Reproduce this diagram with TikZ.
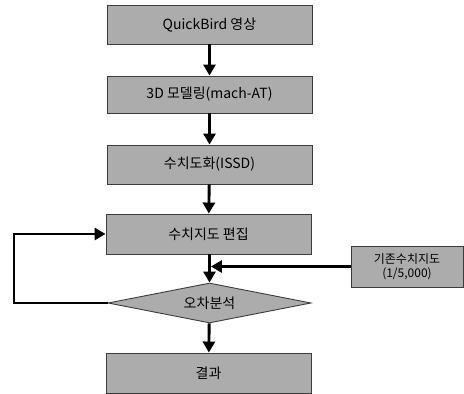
\documentclass[tikz,border=0pt]{standalone}
\usepackage{fontspec}
\setmainfont{Noto Sans CJK KR}
\usetikzlibrary{shapes.geometric,arrows.meta}
\definecolor{boxgray}{RGB}{172,172,172}
\definecolor{edgegray}{RGB}{60,60,60}
\tikzset{
  procbox/.style={draw=edgegray,line width=0.9pt,fill=boxgray,minimum width=#1,inner sep=0pt,font=\fontsize{14}{16}\selectfont},
  procbox/.default=205pt,
  decbox/.style={draw=edgegray,line width=0.9pt,fill=boxgray,shape=diamond,aspect=5,inner sep=0pt,minimum width=203pt,minimum height=40pt,font=\fontsize{14}{16}\selectfont},
  flow/.style={line width=2.9pt,-{Triangle[length=11pt,width=12pt]}},
  plain/.style={line width=2.9pt}
}
\begin{document}
\begin{tikzpicture}[x=1pt,y=-1pt]
\useasboundingbox (0,0) rectangle (464,394);
\node[procbox,minimum height=39pt] (b1) at (209.5,24.5) {QuickBird 영상};
\node[procbox,minimum height=37pt] (b2) at (209.5,94.5) {3D 모델링(mach-AT)};
\node[procbox,minimum height=39pt] (b3) at (209.5,164.5) {수치도화(ISSD)};
\node[procbox,minimum height=40pt] (b4) at (208.5,234) {수치지도 편집};
\node[decbox] (d1) at (209.5,303) {오차분석};
\node[procbox,minimum height=40pt] (b5) at (208.5,373) {결과};
\node[procbox=112pt,minimum height=41pt,align=center,font=\fontsize{12}{13.5}\selectfont] (side) at (407,266.5) {기존수치지도\\(1/5,000)};
\coordinate (loopL) at (14,303);
\coordinate (loopT) at (14,234);
\draw[flow] (b1) -- (b2);
\draw[flow] (b2) -- (b3);
\draw[flow] (b3) -- (b4);
\draw[flow] (b4.south -| d1.north) -- (d1.north);
\draw[flow] (side.west) -- ([xshift=1.4pt]d1.north |- side.west);
\draw[flow] (d1) -- (b5);
\draw[plain,-{Triangle[length=11pt,width=12pt]}] (d1.west) -- (loopL) -- (loopT) -- (b4.west);
\end{tikzpicture}
\end{document}
